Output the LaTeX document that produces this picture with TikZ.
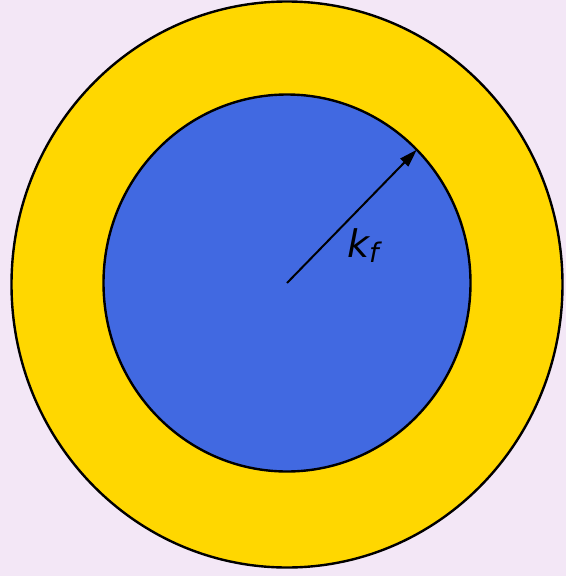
\documentclass[tikz,border=0pt]{standalone}
\usepackage{fontspec}
\newfontfamily\djsans{DejaVu Sans}
\usetikzlibrary{arrows.meta}
\definecolor{bgc}{RGB}{243,231,246}
\definecolor{gold}{RGB}{255,215,0}
\definecolor{royal}{RGB}{65,105,225}
\tikzset{
  ring/.style={draw=black, line width=2.4pt},
  radius arrow/.style={draw=black, line width=2pt, -{Triangle[length=18pt,width=11pt]}},
  lbl/.style={font=\djsans\itshape\fontsize{38}{40}\selectfont, text=black, inner sep=0pt}
}
\begin{document}
\begin{tikzpicture}[x=1pt,y=-1pt]
\fill[bgc] (0,0) rectangle (566,576);
\useasboundingbox (0,0) rectangle (566,576);
\path[ring, fill=gold] (287,284.5) ellipse [x radius=275.5, y radius=283];
\path[ring, fill=royal] (287,283) ellipse [x radius=183.5, y radius=188.5];
\coordinate (c) at (287,283);
\coordinate (e) at (416.8,149.7);
\draw[radius arrow] (c) -- (e);
\node[lbl, anchor=base west] (k) at (347,257) {k\raisebox{-5pt}{\fontsize{27}{28}\selectfont f}};
\end{tikzpicture}
\end{document}
